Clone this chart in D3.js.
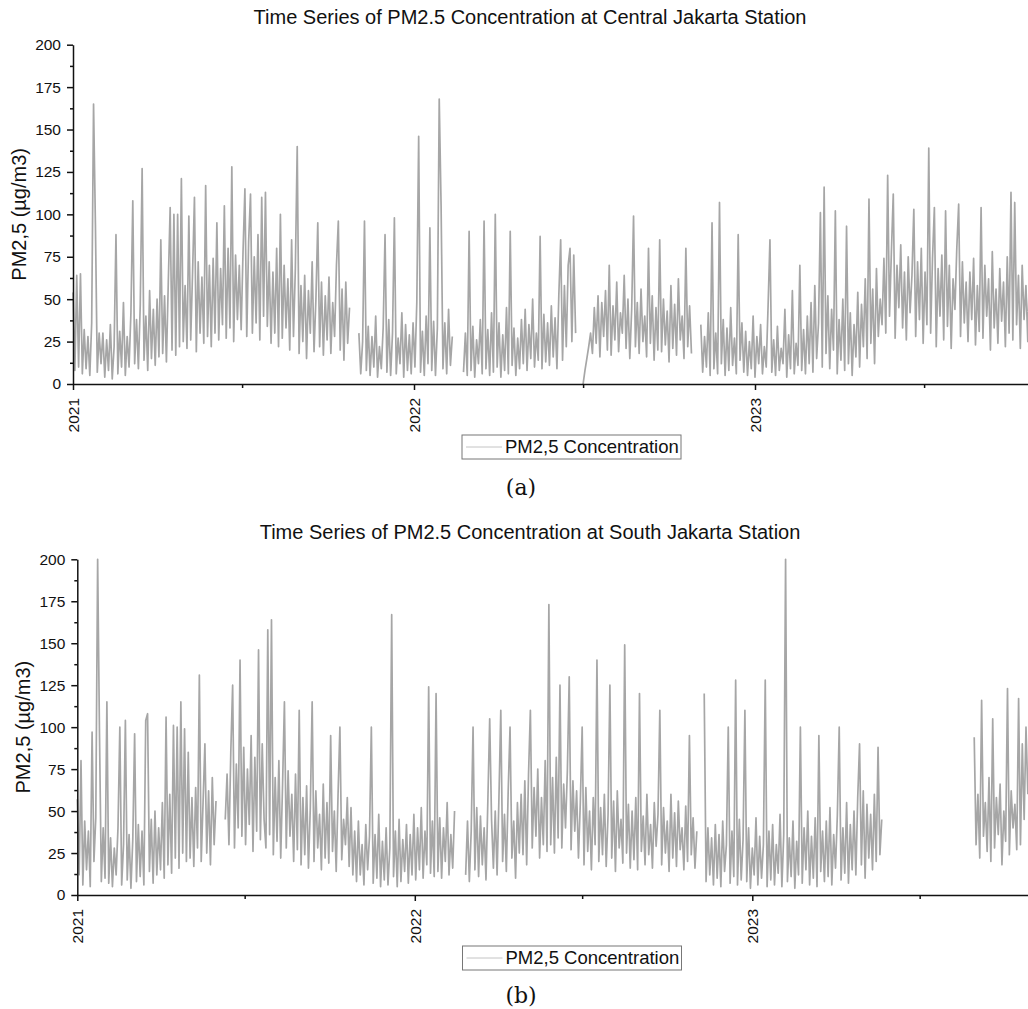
<!DOCTYPE html>
<html>
<head>
<meta charset="utf-8">
<script src="https://cdn.jsdelivr.net/npm/d3@7"></script>
<style>
  body { margin: 0; background: #fff; }
  text { font-family: "Liberation Sans", Arial, sans-serif; fill: #111; }
</style>
</head>
<body>
<div id="chart"></div>
<script>
// readings every 2 days from 2021-01-01 (null = no data)
const startDate = new Date(2021, 0, 1)
const stepDays = 2

const centralPM = [
  54, 8, 64, 10, 65, 6, 32, 9, 28, 5, 36, 165, 94, 7, 30,
  12, 30, 4, 26, 8, 35, 3, 22, 88, 6, 31, 10, 48, 5, 28,
  10, 42, 108, 12, 38, 9, 47, 127, 14, 40, 8, 55, 15, 44, 11,
  50, 16, 85, 18, 52, 13, 60, 104, 20, 100, 17, 100, 22, 121, 25,
  58, 21, 99, 26, 66, 110, 19, 72, 30, 63, 24, 117, 28, 70, 22,
  74, 30, 95, 26, 68, 35, 105, 27, 80, 33, 128, 25, 76, 38, 70,
  32, 78, 115, 28, 84, 112, 30, 75, 36, 88, 26, 110, 40, 113, 34,
  72, 24, 66, 30, 80, 22, 100, 27, 70, 33, 62, 20, 85, 28, 68,
  140, 18, 58, 25, 64, 15, 55, 30, 72, 19, 50, 95, 22, 60, 17,
  52, 26, 63, 18, 48, 28, 70, 96, 20, 56, 14, 60, 24, 45, null,
  null, null, null, 30, 6, 25, 96, 8, 34, 5, 28, 10, 40, 4, 22,
  9, 33, 88, 7, 38, 5, 30, 98, 6, 27, 12, 42, 4, 35, 8,
  29, 6, 36, 10, 48, 146, 7, 31, 5, 40, 12, 92, 8, 37, 5,
  33, 168, 105, 9, 36, 6, 44, 11, 28, null, null, null, null, null, 7,
  30, 5, 90, 8, 34, 4, 26, 12, 38, 6, 96, 9, 32, 5, 42,
  7, 100, 10, 36, 4, 29, 8, 45, 6, 90, 11, 33, 5, 27, 9,
  38, 12, 44, 8, 35, 15, 50, 10, 30, 14, 87, 9, 41, 13, 36,
  11, 46, 16, 39, 9, 52, 85, 14, 58, 22, 70, 80, 25, 76, 30,
  null, null, null, 0, 8, 15, 22, 30, 18, 45, 24, 52, 16, 48, 28,
  55, 20, 70, 17, 46, 26, 60, 19, 42, 30, 64, 21, 50, 15, 44,
  99, 22, 48, 18, 56, 25, 40, 16, 80, 24, 52, 14, 45, 20, 85,
  19, 50, 23, 43, 13, 58, 21, 47, 17, 62, 26, 40, 15, 80, 22,
  46, 18, null, null, null, null, 35, 7, 28, 10, 42, 5, 95, 9, 30,
  6, 107, 12, 38, 5, 33, 8, 45, 11, 27, 6, 88, 14, 36, 7,
  31, 5, 25, 9, 40, 4, 28, 12, 35, 6, 22, 10, 46, 85, 7,
  26, 5, 34, 8, 21, 12, 44, 4, 29, 9, 55, 6, 24, 11, 70,
  8, 32, 6, 40, 12, 48, 7, 58, 15, 36, 101, 10, 116, 18, 52,
  9, 44, 20, 102, 6, 38, 14, 50, 8, 93, 12, 42, 5, 35, 16,
  54, 10, 47, 22, 62, 15, 109, 24, 56, 12, 68, 28, 50, 35, 74,
  30, 123, 40, 78, 112, 27, 70, 45, 82, 33, 66, 26, 75, 42, 64,
  103, 28, 72, 38, 80, 24, 66, 35, 139, 30, 74, 104, 22, 68, 40,
  76, 26, 102, 34, 70, 21, 62, 44, 80, 106, 28, 72, 36, 60, 25,
  66, 38, 74, 23, 58, 31, 104, 27, 70, 40, 62, 20, 78, 33, 56,
  24, 68, 37, 60, 22, 75, 30, 113, 26, 107, 35, 64, 21, 70, 38,
  58, 25, 72, 30, 62
]

const southPM = [
  57, 12, 80, 6, 44, 15, 38, 5, 97, 20, 46, 200, 96, 8, 40,
  10, 115, 7, 34, 5, 28, 12, 40, 100, 6, 30, 104, 9, 36, 4,
  33, 96, 8, 42, 11, 38, 6, 104, 108, 14, 45, 7, 50, 12, 40,
  15, 55, 10, 106, 18, 60, 13, 101, 22, 100, 16, 115, 25, 99, 20,
  85, 22, 58, 17, 64, 28, 131, 20, 55, 90, 25, 62, 18, 70, 30,
  56, null, null, null, null, 45, 72, 30, 85, 125, 28, 78, 40, 140, 35,
  88, 30, 75, 42, 95, 26, 82, 38, 146, 33, 90, 45, 28, 158, 36,
  164, 24, 70, 32, 80, 22, 66, 115, 28, 74, 35, 60, 20, 72, 27,
  110, 18, 58, 24, 65, 16, 52, 115, 20, 62, 28, 48, 15, 66, 22,
  55, 19, 95, 26, 50, 14, 60, 100, 21, 45, 30, 58, 17, 52, 12,
  38, 8, 44, 12, 30, 6, 42, 15, 35, 100, 7, 36, 10, 48, 5,
  32, 9, 40, 6, 28, 167, 11, 38, 5, 45, 8, 33, 14, 42, 7,
  36, 12, 48, 9, 40, 15, 52, 10, 38, 18, 124, 13, 44, 11, 120,
  14, 46, 10, 40, 20, 55, 12, 36, 16, 50, null, null, null, null, null,
  12, 44, 8, 38, 100, 15, 52, 11, 47, 18, 40, 9, 56, 105, 45,
  16, 50, 12, 58, 110, 20, 48, 14, 62, 100, 22, 44, 10, 55, 25,
  60, 24, 68, 18, 72, 110, 28, 64, 35, 75, 22, 58, 30, 80, 26,
  173, 30, 70, 25, 82, 34, 125, 28, 66, 40, 74, 130, 27, 68, 38,
  62, 22, 55, 100, 18, 64, 26, 50, 15, 58, 30, 140, 20, 52, 24,
  60, 17, 48, 125, 22, 56, 14, 62, 28, 45, 19, 149, 25, 54, 16,
  50, 21, 58, 15, 120, 26, 47, 18, 60, 24, 42, 16, 55, 29, 48,
  110, 18, 52, 25, 44, 14, 60, 22, 49, 17, 56, 27, 40, 15, 53,
  20, 95, 24, 46, 16, 38, null, null, null, 120, 8, 40, 12, 34, 6,
  42, 10, 36, 5, 44, 14, 30, 100, 7, 38, 11, 128, 6, 45, 9,
  33, 110, 8, 40, 4, 28, 12, 46, 6, 35, 10, 30, 128, 5, 38,
  9, 42, 6, 30, 13, 48, 5, 36, 200, 8, 34, 11, 44, 4, 32,
  12, 100, 7, 40, 15, 50, 6, 35, 10, 46, 5, 95, 14, 38, 8,
  44, 11, 52, 6, 36, 16, 48, 100, 9, 40, 13, 55, 7, 42, 15,
  50, 12, 58, 90, 18, 62, 10, 54, 22, 48, 15, 60, 20, 88, 24,
  45, null, null, null, null, null, null, null, null, null, null, null, null, null, null,
  null, null, null, null, null, null, null, null, null, null, null, null, null, null, null,
  null, null, null, null, null, null, null, null, null, null, null, null, null, null, null,
  null, null, null, null, null, 94, 30, 60, 22, 116, 35, 55, 26, 70, 20,
  105, 28, 58, 36, 66, 18, 50, 32, 123, 24, 62, 40, 54, 27, 117,
  30, 90, 45, 100, 60
]

const yTicks = [0, 25, 50, 75, 100, 125, 150, 175, 200]
const yMinorTicks = [12.5, 37.5, 62.5, 87.5, 112.5, 137.5, 162.5, 187.5]
const yearTicks = [new Date(2021, 0, 1), new Date(2022, 0, 1), new Date(2023, 0, 1)]
const midYearTicks = [new Date(2021, 6, 1), new Date(2022, 6, 1), new Date(2023, 6, 1)]

const panels = [
  { title: "Time Series of PM2.5 Concentration at Central Jakarta Station", values: centralPM,
    left: 73, yearPx: 341, top: 44.7, bottom: 384, titleX: 530, titleY: 24,
    labelX: 26, legendX: 462, legendY: 435, tag: "(a)", tagY: 495 },
  { title: "Time Series of PM2.5 Concentration at South Jakarta Station", values: southPM,
    left: 77.3, yearPx: 337.5, top: 559.3, bottom: 895, titleX: 530, titleY: 539,
    labelX: 30, legendX: 462.5, legendY: 946, tag: "(b)", tagY: 1003 }
]

const width = 1028, height = 1009

const svg = d3.select("#chart")
  .append("svg")
  .attr("width", width)
  .attr("height", height)

panels.forEach(p => {
  const x = d3.scaleTime()
    .domain([new Date(2021, 0, 1), new Date(2024, 0, 1)])
    .range([p.left, p.left + 3 * p.yearPx])
  const y = d3.scaleLinear().domain([0, 200]).range([p.bottom, p.top])

  const series = p.values.map((v, i) => ({ date: d3.timeDay.offset(startDate, i * stepDays), value: v }))

  const g = svg.append("g")

  const line = d3.line()
    .defined(d => d.value !== null)
    .x(d => x(d.date))
    .y(d => y(d.value))

  g.append("path")
    .datum(series)
    .attr("d", line)
    .attr("fill", "none")
    .attr("stroke", "#a6a6a6")
    .attr("stroke-width", 1.7)
    .attr("stroke-linejoin", "round")

  // y axis
  g.append("g")
    .attr("transform", `translate(${p.left},0)`)
    .call(d3.axisLeft(y).tickValues(yMinorTicks).tickSize(3).tickFormat(""))
    .call(a => a.select(".domain").remove())
  const ya = g.append("g")
    .attr("transform", `translate(${p.left},0)`)
    .call(d3.axisLeft(y).tickValues(yTicks).tickSize(6).tickPadding(6).tickSizeOuter(0))
  ya.selectAll("text").style("font-size", "15.5px").attr("fill", "#111")

  // x axis
  g.append("g")
    .attr("transform", `translate(0,${p.bottom})`)
    .call(d3.axisBottom(x).tickValues(midYearTicks).tickSize(4).tickFormat(""))
    .call(a => a.select(".domain").remove())
  const xa = g.append("g")
    .attr("transform", `translate(0,${p.bottom})`)
    .call(d3.axisBottom(x).tickValues(yearTicks).tickSize(6).tickSizeOuter(0).tickFormat(d3.timeFormat("%Y")))
  xa.selectAll("text")
    .style("font-size", "15.5px")
    .attr("fill", "#111")
    .attr("text-anchor", "end")
    .attr("transform", "rotate(-90)")
    .attr("x", -14)
    .attr("y", 0)
    .attr("dy", "0.35em")

  svg.selectAll(".domain, .tick line").attr("stroke", "#111").attr("stroke-width", 1.5)

  // title
  svg.append("text")
    .attr("x", p.titleX)
    .attr("y", p.titleY)
    .attr("text-anchor", "middle")
    .style("font-size", "20px")
    .text(p.title)

  // y label
  svg.append("text")
    .attr("transform", `translate(${p.labelX},${(p.top + p.bottom) / 2}) rotate(-90)`)
    .attr("text-anchor", "middle")
    .style("font-size", "20px")
    .text("PM2,5 (µg/m3)")

  // legend
  const lg = svg.append("g").attr("transform", `translate(${p.legendX},${p.legendY})`)
  lg.append("rect")
    .attr("width", 219).attr("height", 24)
    .attr("fill", "#fff").attr("stroke", "#777").attr("stroke-width", 1)
  lg.append("line")
    .attr("x1", 4).attr("x2", 40).attr("y1", 12).attr("y2", 12)
    .attr("stroke", "#c4c4c4").attr("stroke-width", 1)
  lg.append("text")
    .attr("x", 43).attr("y", 18)
    .style("font-size", "18.5px")
    .text("PM2,5 Concentration")

  // panel tag
  svg.append("text")
    .attr("x", 521).attr("y", p.tagY)
    .attr("text-anchor", "middle")
    .style("font-family", "'DejaVu Serif', serif")
    .style("font-size", "22px")
    .text(p.tag)
})
</script>
</body>
</html>
